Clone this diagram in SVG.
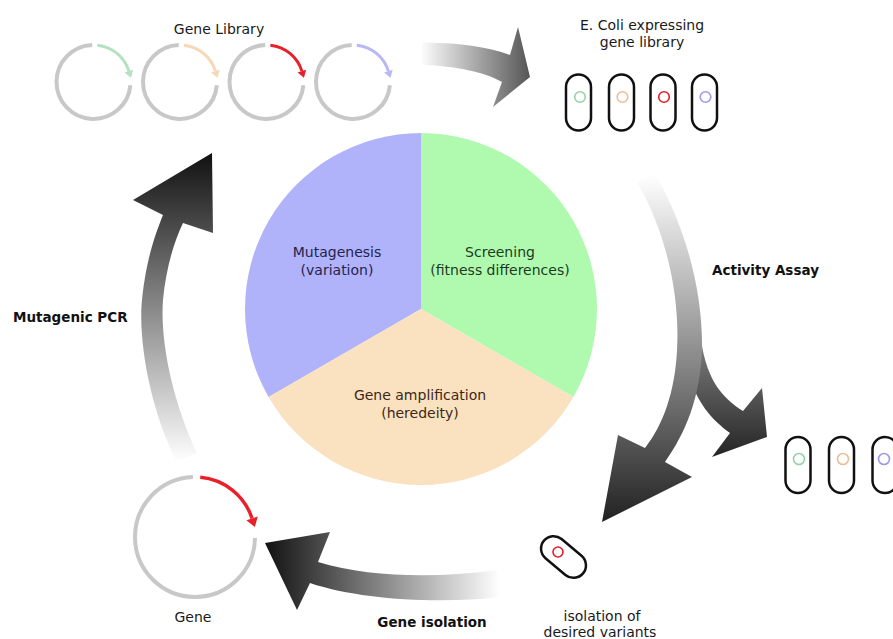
<svg xmlns="http://www.w3.org/2000/svg" xmlns:xlink="http://www.w3.org/1999/xlink" width="893" height="639" viewBox="0 0 893 639">
  <style>
    text { font-family: "DejaVu Sans", "Noto Sans", sans-serif; font-size: 14px; fill: #1a1a1a; }
    .lbl { font-weight: bold; font-size: 13.5px; fill: #111; }
    .mid { text-anchor: middle; }
    .cell { fill: none; stroke: #111; stroke-width: 2.5; }
    .dot { fill: none; stroke-width: 1.6; }
    .backbone { fill: none; stroke: #c8c8c8; stroke-width: 4; }
  </style>
  <defs>
    <!-- plasmid pieces, local coords around the circle centre -->
    <path id="libBackbone" class="backbone" d="M36.86,3.22 A37,37 0 1 1 -1.29,-36.98"/>
    <g id="libInsert">
      <path fill="none" stroke-width="3" d="M3.87,-36.8 A37,37 0 0 1 35.38,-10.82"/>
      <polygon stroke="none" points="39.68,-12.13 31.08,-9.51 37.42,-4.13"/>
    </g>
    <rect id="cellShape" class="cell" x="-12.5" y="-28" width="25" height="56" rx="12.5"/>

    <linearGradient id="gTop" gradientUnits="userSpaceOnUse" x1="420" y1="0" x2="530" y2="0">
      <stop offset="0" stop-color="#ffffff"/>
      <stop offset="1" stop-color="#555555"/>
    </linearGradient>
    <linearGradient id="gRight" gradientUnits="userSpaceOnUse" x1="0" y1="175" x2="0" y2="522">
      <stop offset="0" stop-color="#ffffff"/>
      <stop offset="1" stop-color="#222222"/>
    </linearGradient>
    <linearGradient id="gBranch" gradientUnits="userSpaceOnUse" x1="0" y1="175" x2="0" y2="460">
      <stop offset="0" stop-color="#ffffff"/>
      <stop offset="1" stop-color="#222222"/>
    </linearGradient>
    <linearGradient id="gBottom" gradientUnits="userSpaceOnUse" x1="500" y1="0" x2="265" y2="0">
      <stop offset="0" stop-color="#ffffff"/>
      <stop offset="1" stop-color="#111111"/>
    </linearGradient>
    <linearGradient id="gLeft" gradientUnits="userSpaceOnUse" x1="0" y1="462" x2="0" y2="153">
      <stop offset="0" stop-color="#ffffff"/>
      <stop offset="1" stop-color="#111111"/>
    </linearGradient>
  </defs>

  <rect width="893" height="639" fill="#ffffff"/>

  <!-- central cycle pie -->
  <g id="cycle">
    <path d="M421,309 L421,133 A176,176 0 0 0 268.6,397 Z" fill="#b0b2fa"/>
    <path d="M421,309 L421,133 A176,176 0 0 1 573.4,397 Z" fill="#b0fab0"/>
    <path d="M421,309 L573.4,397 A176,176 0 0 1 268.6,397 Z" fill="#fae2c0"/>
    <text class="mid" x="337" y="257" style="fill:#24244e">Mutagenesis</text>
    <text class="mid" x="337" y="275" style="fill:#24244e">(variation)</text>
    <text class="mid" x="500" y="257" style="fill:#1d3a1d">Screening</text>
    <text class="mid" x="500" y="275" style="fill:#1d3a1d">(fitness differences)</text>
    <text class="mid" x="420" y="400" style="fill:#3a2818">Gene amplification</text>
    <text class="mid" x="420" y="418" style="fill:#3a2818">(heredeity)</text>
  </g>

  <!-- gene library: four plasmids -->
  <g id="gene-library">
    <text class="mid" x="219" y="34">Gene Library</text>
    <g transform="translate(93.5,82)">
      <use xlink:href="#libBackbone"/>
      <use xlink:href="#libInsert" stroke="#b6e0c2" fill="#b6e0c2"/>
    </g>
    <g transform="translate(180,82)">
      <use xlink:href="#libBackbone"/>
      <use xlink:href="#libInsert" stroke="#f6d8b6" fill="#f6d8b6"/>
    </g>
    <g transform="translate(266.5,82)">
      <use xlink:href="#libBackbone"/>
      <use xlink:href="#libInsert" stroke="#e8202a" fill="#e8202a"/>
    </g>
    <g transform="translate(353,82)">
      <use xlink:href="#libBackbone"/>
      <use xlink:href="#libInsert" stroke="#b8b8f6" fill="#b8b8f6"/>
    </g>
  </g>

  <!-- E. coli expressing the library -->
  <g id="ecoli-library">
    <text class="mid" x="642" y="30">E. Coli expressing</text>
    <text class="mid" x="642" y="47">gene library</text>
    <use xlink:href="#cellShape" x="578.5" y="102.5"/>
    <use xlink:href="#cellShape" x="621.5" y="102.5"/>
    <use xlink:href="#cellShape" x="663" y="102.5"/>
    <use xlink:href="#cellShape" x="704.5" y="102.5"/>
    <circle class="dot" cx="580" cy="97" r="5.3" stroke="#96d2a4"/>
    <circle class="dot" cx="622.5" cy="97" r="5.3" stroke="#eebc94"/>
    <circle class="dot" cx="664" cy="97" r="5.3" stroke="#e01e2a"/>
    <circle class="dot" cx="705.5" cy="97" r="5.3" stroke="#9a9aec"/>
  </g>

  <!-- cells left after screening -->
  <g id="screened-out">
    <use xlink:href="#cellShape" x="798" y="465"/>
    <use xlink:href="#cellShape" x="841.5" y="465"/>
    <use xlink:href="#cellShape" x="885" y="465"/>
    <circle class="dot" cx="799" cy="459" r="5.5" stroke="#96d2a4"/>
    <circle class="dot" cx="843" cy="459" r="5.5" stroke="#eebc94"/>
    <circle class="dot" cx="884" cy="459" r="5.5" stroke="#9a9aec"/>
  </g>

  <!-- isolated variant -->
  <g id="isolated-variant">
    <rect class="cell" x="-12.5" y="-25.5" width="25" height="51" rx="12.5" transform="translate(563.5,557) rotate(-50)"/>
    <circle class="dot" cx="558" cy="552" r="5" stroke="#e01e2a"/>
    <text class="mid" x="602" y="621">isolation of</text>
    <text class="mid" x="600" y="637">desired variants</text>
  </g>

  <!-- single gene plasmid -->
  <g id="gene">
    <path class="backbone" d="M254.99,538.05 A60,60 0 1 1 192.91,477.04"/>
    <path fill="none" stroke="#e8202a" stroke-width="3.4" d="M200.23,477.23 A60,60 0 0 1 252.06,518.46"/>
    <polygon fill="#e8202a" points="257.77,516.61 246.35,520.31 254.84,527.02"/>
    <text class="mid" x="193" y="622">Gene</text>
  </g>

  <!-- step arrows -->
  <g id="connectors">
    <path fill="url(#gTop)" d="M422,43 C450,42 485,46 510,55 L518,27 L530,77 L493,107 L502,82 C485,72 455,66 422,65 Z"/>
    <path fill="url(#gBranch)" d="M700,330 C704,378 722,398 743,411 L762,388 L767,437 L712,457 L730,433 C712,420 696,402 688,372 Z"/>
    <path fill="url(#gRight)" d="M655,173 C688,232 703,295 702,350 C700,398 686,432 665,462 L692,477 L602,522 L618,435 L645,448 C663,425 675,392 677,350 C680,300 668,235 637,182 Z"/>
    <path fill="url(#gBottom)" d="M498,570 C440,578 370,578 318,562 L330,532 L265,543 L297,610 L310,583 C360,600 440,604 500,597 Z"/>
    <path fill="url(#gLeft)" d="M197,453 C172,400 160,340 163,300 C166,268 174,242 183,223 L213,233 L212,153 L133,200 L163,215 C155,235 146,260 142,300 C138,340 150,410 177,462 Z"/>
  </g>

  <!-- step labels -->
  <g id="step-labels">
    <text class="lbl" x="13" y="322">Mutagenic PCR</text>
    <text class="lbl" x="712" y="275">Activity Assay</text>
    <text class="lbl mid" x="432" y="627">Gene isolation</text>
  </g>
</svg>
